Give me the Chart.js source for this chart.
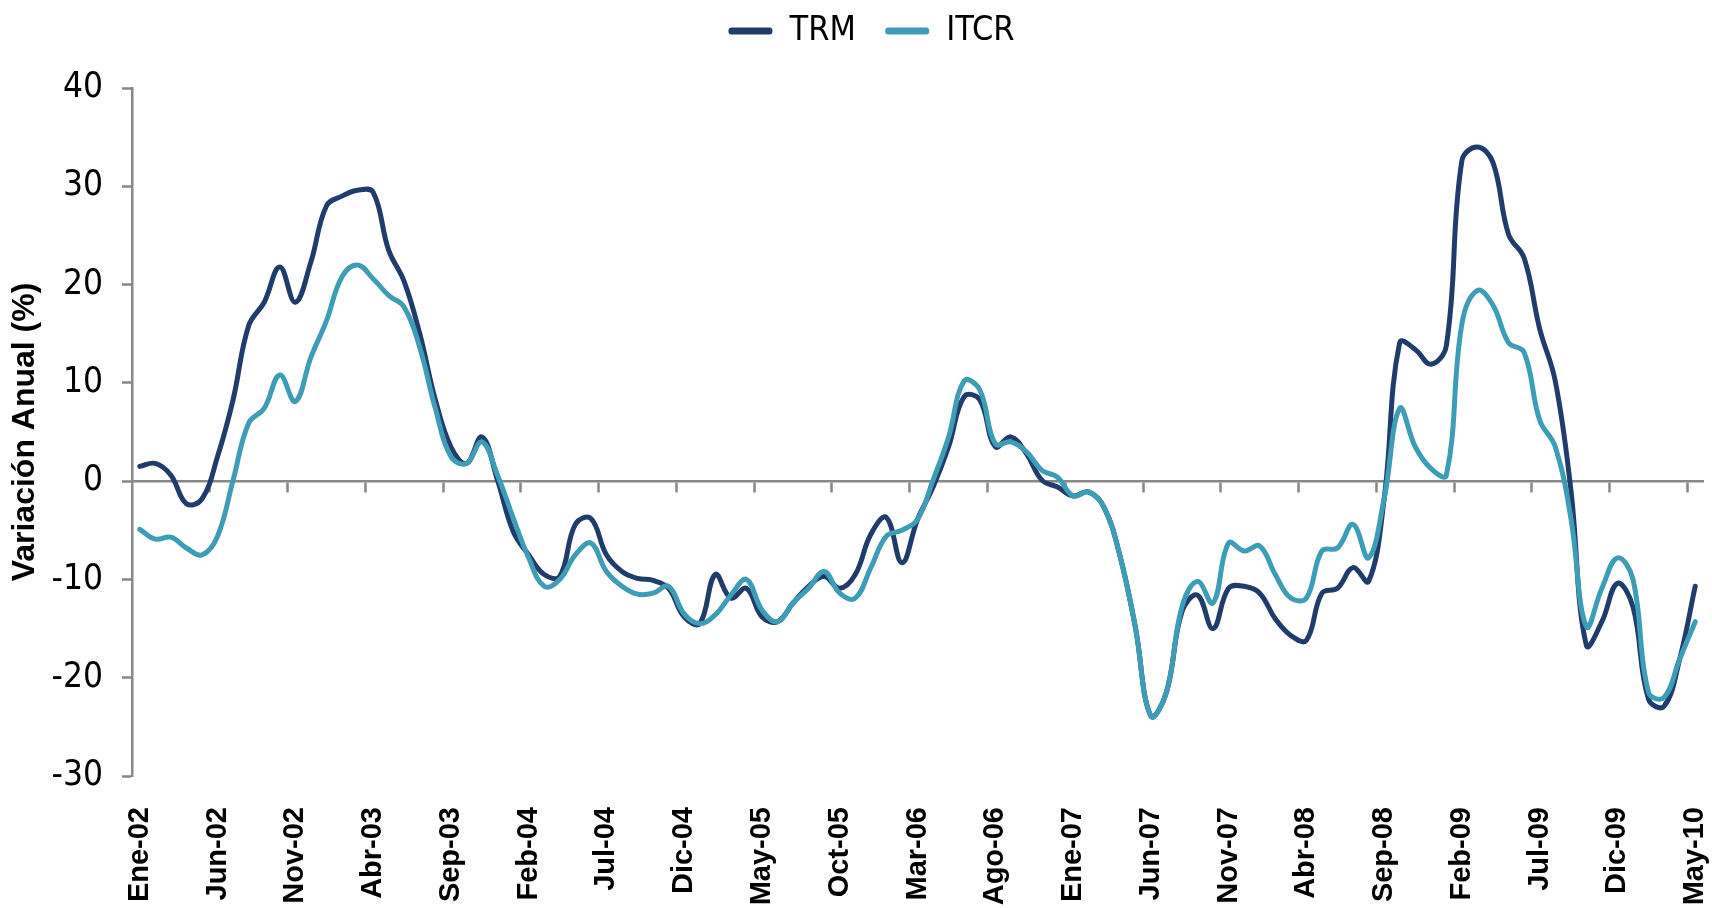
<!DOCTYPE html>
<html>
<head>
<meta charset="utf-8">
<script src="https://cdn.jsdelivr.net/npm/chart.js@4.4.1/dist/chart.umd.min.js"></script>
<style>
  html, body { margin: 0; padding: 0; background: #fff; }
</style>
</head>
<body>
<canvas id="graphCanvas" width="1712" height="908"></canvas>
<script>
// meses (Ene-02 ... May-10)
var fechas = [
  'Ene-02','Feb-02','Mar-02','Abr-02','May-02','Jun-02','Jul-02','Ago-02','Sep-02','Oct-02','Nov-02','Dic-02',
  'Ene-03','Feb-03','Mar-03','Abr-03','May-03','Jun-03','Jul-03','Ago-03','Sep-03','Oct-03','Nov-03','Dic-03',
  'Ene-04','Feb-04','Mar-04','Abr-04','May-04','Jun-04','Jul-04','Ago-04','Sep-04','Oct-04','Nov-04','Dic-04',
  'Ene-05','Feb-05','Mar-05','Abr-05','May-05','Jun-05','Jul-05','Ago-05','Sep-05','Oct-05','Nov-05','Dic-05',
  'Ene-06','Feb-06','Mar-06','Abr-06','May-06','Jun-06','Jul-06','Ago-06','Sep-06','Oct-06','Nov-06','Dic-06',
  'Ene-07','Feb-07','Mar-07','Abr-07','May-07','Jun-07','Jul-07','Ago-07','Sep-07','Oct-07','Nov-07','Dic-07',
  'Ene-08','Feb-08','Mar-08','Abr-08','May-08','Jun-08','Jul-08','Ago-08','Sep-08','Oct-08','Nov-08','Dic-08',
  'Ene-09','Feb-09','Mar-09','Abr-09','May-09','Jun-09','Jul-09','Ago-09','Sep-09','Oct-09','Nov-09','Dic-09',
  'Ene-10','Feb-10','Mar-10','Abr-10','May-10'
];

// variacion anual (%)
var trm = [
  1.5, 1.8, 0.6, -2.3, -1.8, 2.5, 8.3, 15.8, 18.2, 21.8, 18.2, 22.3,
  28.0, 29.0, 29.6, 29.4, 23.5, 20.3, 15.0, 8.3, 3.5, 1.8, 4.5, 0.1,
  -5.1, -7.5, -9.5, -9.7, -4.4, -3.8, -7.5, -9.2, -9.9, -10.1, -10.9, -13.8,
  -14.5, -9.5, -11.9, -10.9, -13.8, -14.3, -12.4, -10.7, -9.7, -10.9, -9.5, -5.4,
  -3.7, -8.3, -3.9, -0.6, 3.5, 8.6, 8.3, 3.5, 4.5, 2.8, 0.1, -0.6,
  -1.5, -1.1, -2.7, -7.5, -14.8, -23.9, -21.5, -13.3, -11.6, -15.0, -10.9, -10.7,
  -11.4, -14.0, -15.7, -16.2, -11.4, -10.9, -8.8, -10.2, -1.8, 14.1, 13.4, 11.9,
  13.8, 32.6, 34.0, 32.4, 25.1, 22.7, 15.5, 10.2, -0.8, -16.7, -14.3, -10.4,
  -12.8, -22.2, -22.9, -18.1, -10.7
];

var itcr = [
  -4.9, -5.9, -5.7, -6.8, -7.5, -5.6, 0.1, 5.9, 7.4, 10.8, 8.1, 12.6,
  16.3, 20.8, 22.0, 20.6, 18.9, 17.7, 13.6, 7.4, 2.5, 1.8, 4.0, 0.6,
  -3.7, -7.8, -10.7, -10.0, -7.5, -6.3, -9.2, -10.7, -11.5, -11.4, -10.7, -13.5,
  -14.5, -13.6, -11.6, -10.0, -13.1, -14.3, -12.4, -10.9, -9.2, -11.4, -11.9, -8.8,
  -5.6, -5.0, -3.9, 0.1, 4.5, 10.2, 9.3, 3.8, 4.0, 3.0, 1.1, 0.4,
  -1.5, -1.1, -2.7, -7.5, -14.8, -23.9, -21.5, -12.8, -10.2, -12.4, -6.3, -7.1,
  -6.6, -9.5, -11.9, -11.9, -7.1, -6.8, -4.4, -7.8, -1.8, 7.4, 3.5, 1.3,
  0.6, 16.0, 19.4, 17.9, 14.1, 13.1, 6.2, 3.5, -3.7, -14.8, -10.9, -7.8,
  -10.0, -21.5, -22.0, -18.1, -14.3
];

var colorTRM = '#1f3c6b';
var colorITCR = '#3d9db6';
var colorEje = '#878787';
var fuenteAngosta = "'DejaVu Sans Condensed', 'Liberation Sans', sans-serif";
var fuente = "'Liberation Sans', Arial, sans-serif";

// leyenda: espacio extra debajo y un poco corrida a la derecha
var ajusteLeyenda = {
  id: 'ajusteLeyenda',
  beforeInit: function (chart) {
    var fitOriginal = chart.legend.fit;
    chart.legend.fit = function () {
      fitOriginal.call(this);
      this.height += 30;
    };
  },
  afterLayout: function (chart) {
    chart.legend.left += 36;
  }
};

var graphTarget = document.getElementById('graphCanvas');

var lineGraph = new Chart(graphTarget, {
  type: 'line',
  data: {
    labels: fechas,
    datasets: [
      {
        label: 'TRM',
        data: trm,
        borderColor: colorTRM,
        backgroundColor: colorTRM,
        borderWidth: 5,
        pointRadius: 0,
        tension: 0.4,
        borderCapStyle: 'round',
        borderJoinStyle: 'round',
        order: 1
      },
      {
        label: 'ITCR',
        data: itcr,
        borderColor: colorITCR,
        backgroundColor: colorITCR,
        borderWidth: 5,
        pointRadius: 0,
        tension: 0.4,
        borderCapStyle: 'round',
        borderJoinStyle: 'round',
        order: 0
      }
    ]
  },
  options: {
    responsive: false,
    animation: false,
    devicePixelRatio: 1,
    layout: { padding: { top: 4, right: 9, bottom: 0, left: 4 } },
    plugins: {
      legend: {
        position: 'top',
        labels: {
          color: '#000',
          font: { family: fuenteAngosta, size: 34 },
          boxWidth: 44,
          boxHeight: 7,
          padding: 10,
          sort: function (a, b) { return a.datasetIndex - b.datasetIndex; },
          generateLabels: function (chart) {
            var items = Chart.defaults.plugins.legend.labels.generateLabels(chart);
            items.forEach(function (it) {
              it.fillStyle = it.strokeStyle;
              it.lineWidth = 0;
              it.borderRadius = 3;
              if (it.datasetIndex === 0) it.text = it.text + '  ';
            });
            return items;
          }
        }
      },
      tooltip: { enabled: false }
    },
    scales: {
      x: {
        type: 'category',
        position: 'bottom',
        offset: true,
        border: { display: false },
        grid: { display: false, drawTicks: false },
        ticks: {
          autoSkip: false,
          minRotation: 90,
          maxRotation: 90,
          padding: 31,
          color: '#000',
          font: { family: fuente, size: 29, weight: 'bold' },
          callback: function (value, index) {
            return index % 5 === 0 ? this.getLabelForValue(value) : '';
          }
        },
        afterFit: function (scale) {
          scale.paddingLeft = 0;
          scale.paddingRight = 0;
          scale.height = 132;
        }
      },
      x0: {
        type: 'category',
        position: { y: 0 },
        offset: true,
        border: { color: colorEje, width: 2.5 },
        grid: {
          drawOnChartArea: false,
          offset: true,
          tickLength: 10,
          tickWidth: 2.5,
          tickColor: function (ctx) {
            return (ctx.index % 5 === 0 && ctx.index > 0) ? colorEje : 'rgba(0,0,0,0)';
          }
        },
        ticks: { display: false }
      },
      y: {
        min: -30,
        max: 40,
        border: { color: colorEje, width: 2.5 },
        grid: { drawOnChartArea: false, tickLength: 10, tickWidth: 2.5, tickColor: colorEje },
        ticks: {
          stepSize: 10,
          padding: 19,
          color: '#000',
          font: { family: fuenteAngosta, size: 35 }
        },
        title: {
          display: true,
          text: 'Variación Anual (%)',
          color: '#000',
          font: { family: fuente, size: 32, weight: 'bold' },
          padding: { top: 2, bottom: 10 }
        },
        afterFit: function (scale) {
          scale.width = 128;
        }
      }
    }
  },
  plugins: [ajusteLeyenda]
});
</script>
</body>
</html>
